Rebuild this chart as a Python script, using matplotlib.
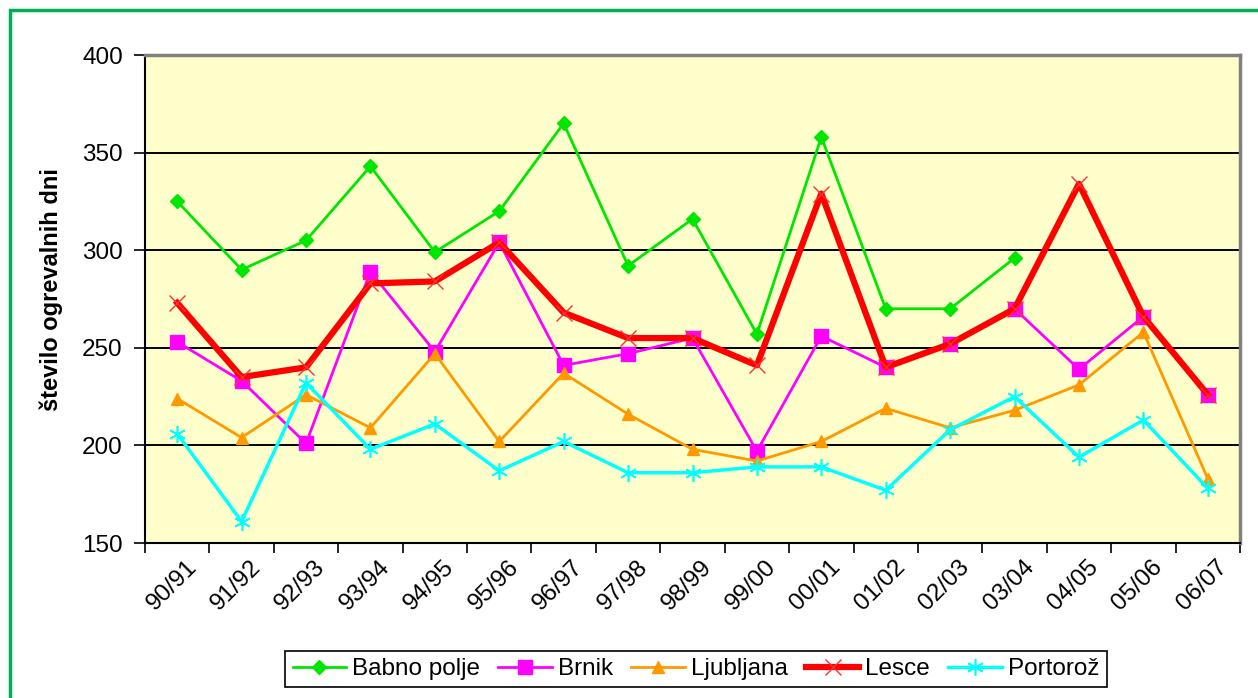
import matplotlib
matplotlib.use("Agg")
import matplotlib.pyplot as plt
from matplotlib.patches import Rectangle
from matplotlib.transforms import ScaledTranslation
import numpy as np

plt.rcParams['font.family'] = ['Liberation Sans', 'DejaVu Sans']

seasons = ["90/91", "91/92", "92/93", "93/94", "94/95", "95/96", "96/97", "97/98",
           "98/99", "99/00", "00/01", "01/02", "02/03", "03/04", "04/05", "05/06", "06/07"]

babno_polje = [325, 290, 305, 343, 299, 320, 365, 292, 316, 257, 358, 270, 270, 296,
               np.nan, np.nan, np.nan]
brnik = [253, 233, 201, 289, 248, 304, 241, 247, 255, 197, 256, 240, 252, 270, 239, 266, 226]
ljubljana = [224, 204, 226, 209, 247, 202, 237, 216, 198, 192, 202, 219, 209, 218, 231, 258, 183]
lesce = [273, 235, 240, 283, 284, 304, 268, 255, 255, 241, 329, 240, 252, 270, 334, 266, 226]
portoroz = [206, 161, 232, 198, 211, 187, 202, 186, 186, 189, 189, 177, 208, 225, 194, 213, 178]

y_ticks = [150, 200, 250, 300, 350, 400]

W, H = 1258, 698
fig = plt.figure(figsize=(W / 100, H / 100), dpi=100)
fig.patch.set_facecolor('white')

# green outer border
fig.add_artist(Rectangle((10 / W, -0.2), 1.5, 1.2 - 10 / H, transform=fig.transFigure,
                         fill=False, edgecolor='#00B050', linewidth=2.5, zorder=10))

ax = fig.add_axes([145 / W, 1 - 543 / H, (1240 - 145) / W, (543 - 55) / H])
ax.set_facecolor('#FFFFCC')

x = np.arange(len(seasons))

ax.plot(x, babno_polje, color='#00E600', lw=2, marker='D', ms=7, mec='#00E600',
        mfc='#00E600', label='Babno polje', zorder=3)
ax.plot(x, brnik, color='#FF00FF', lw=2, marker='s', ms=10, mec='#FF00FF',
        mfc='#FF00FF', label='Brnik', zorder=3)
ax.plot(x, ljubljana, color='#FF9900', lw=2, marker='^', ms=9, mec='#FF9900',
        mfc='#FF9900', label='Ljubljana', zorder=3)
ax.plot(x, lesce, color='#FF0000', lw=4.5, marker='x', ms=12, mew=1, mec='#FF3030',
        label='Lesce', zorder=4)
ax.plot(x, portoroz, color='#00FFFF', lw=2.5, marker=(6, 2, 0), ms=12, mew=1.2,
        mec='#00FFFF', label='Portorož', zorder=5)

ax.set_xlim(-0.5, len(seasons) - 0.5)
ax.set_ylim(150, 400)
ax.set_yticks(y_ticks)
ax.set_yticklabels([str(v) for v in y_ticks], fontsize=17.5)

ax.set_xticks(np.arange(len(seasons) + 1) - 0.5)
ax.set_xticklabels([])
ax.set_xticks(x, minor=True)
ax.set_xticklabels(seasons, minor=True, rotation=45, ha='right', va='center',
                   rotation_mode='anchor', fontsize=17.5)
ax.tick_params(axis='x', which='minor', length=0, pad=15)
ax.tick_params(axis='x', which='major', direction='out', length=7, width=1.2, color='black')
ax.tick_params(axis='y', direction='out', length=8, width=1.2, color='black', pad=8)

offset = ScaledTranslation(0.16, 0, fig.dpi_scale_trans)
for lab in ax.get_xticklabels(minor=True):
    lab.set_transform(lab.get_transform() + offset)

for v in [200, 250, 300, 350]:
    ax.axhline(v, color='black', lw=1.4, zorder=1)

ax.spines['top'].set_color('#808080')
ax.spines['top'].set_linewidth(2.5)
ax.spines['right'].set_color('#808080')
ax.spines['right'].set_linewidth(2.5)
ax.spines['left'].set_color('black')
ax.spines['left'].set_linewidth(1.5)
ax.spines['bottom'].set_color('black')
ax.spines['bottom'].set_linewidth(1.5)

ax.set_ylabel('število ogrevalnih dni', fontsize=17, fontweight='bold')
ax.yaxis.set_label_coords(-0.075, 0.52)

leg = fig.legend(loc='center', bbox_to_anchor=(696 / W, 1 - 669 / H), ncol=5,
                 fontsize=17.5, frameon=True, fancybox=False, framealpha=1,
                 edgecolor='black', handlelength=2.2, columnspacing=0.75,
                 handletextpad=0.25, borderpad=0.3, markerscale=1.0)
leg.get_frame().set_linewidth(1.2)

fig.savefig('out.png', dpi=100)
